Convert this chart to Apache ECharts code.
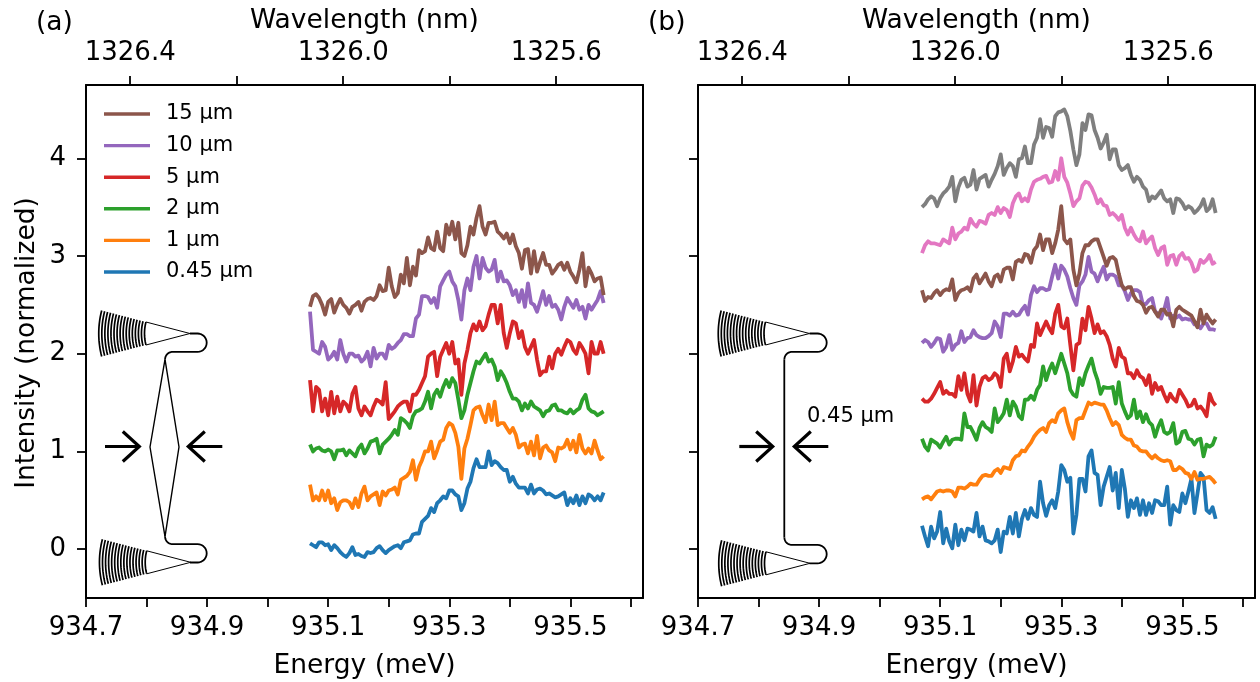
<!DOCTYPE html>
<html><head><meta charset="utf-8">
<style>html,body{margin:0;padding:0;background:#fff}#c{width:1260px;height:682px}</style>
<script src="https://cdn.jsdelivr.net/npm/echarts@6/dist/echarts.min.js"></script>
</head><body><div id="c"></div>
<script>
const energy=[935.07,935.075,935.08,935.085,935.09,935.095,935.1,935.105,935.11,935.115,
935.12,935.125,935.13,935.135,935.14,935.145,935.15,935.155,935.16,935.165,
935.17,935.175,935.18,935.185,935.19,935.195,935.2,935.205,935.21,935.215,
935.22,935.225,935.23,935.235,935.24,935.245,935.25,935.255,935.26,935.265,
935.27,935.275,935.28,935.285,935.29,935.295,935.3,935.305,935.31,935.315,
935.32,935.325,935.33,935.335,935.34,935.345,935.35,935.355,935.36,935.365,
935.37,935.375,935.38,935.385,935.39,935.395,935.4,935.405,935.41,935.415,
935.42,935.425,935.43,935.435,935.44,935.445,935.45,935.455,935.46,935.465,
935.47,935.475,935.48,935.485,935.49,935.495,935.5,935.505,935.51,935.515,
935.52,935.525,935.53,935.535,935.54,935.545,935.55,935.555];
const a045=[.06,.04,.02,.07,.07,.04,.05,-.01,.04,.01,
-.03,-.06,-.08,-.04,.02,-.06,-.05,-.07,-.08,-.03,
-.04,-.03,.01,.03,-.01,-.04,-.01,.01,.03,.04,
.01,.07,.08,.09,.15,.16,.16,.28,.31,.34,
.42,.38,.47,.50,.54,.52,.60,.60,.56,.54,
.40,.47,.62,.69,.83,.92,.84,.84,.84,1.0,
.86,.90,.88,.84,.81,.81,.69,.74,.67,.63,
.63,.63,.57,.66,.57,.61,.62,.60,.56,.57,
.55,.53,.54,.56,.58,.45,.52,.47,.55,.45,
.54,.47,.56,.54,.50,.54,.50,.58];
const a1=[.66,.50,.54,.50,.60,.50,.60,.47,.52,.40,
.48,.50,.50,.48,.42,.52,.43,.57,.64,.50,
.54,.56,.58,.45,.59,.55,.60,.61,.63,.56,
.71,.73,.75,.79,.91,.71,.84,.91,1.0,1.0,
1.10,.93,1.01,1.10,1.12,1.24,1.29,1.27,1.19,1.05,
.72,1.03,1.13,1.27,1.42,1.45,1.46,1.37,1.30,1.48,
1.32,1.51,1.27,1.29,1.29,1.24,1.19,1.24,1.17,1.04,
1.07,1.08,.98,1.10,.96,1.16,.93,1.04,1.06,1.01,
.99,.90,1.04,1.03,1.05,1.12,1.02,1.11,.99,1.17,
1.03,.98,1.03,.98,1.11,1.01,.92,.95];
const a2=[1.07,1.0,1.03,1.04,1.01,1.0,1.02,1.0,.92,1.01,
1.01,1.02,.96,1.01,.98,.95,1.03,1.07,.98,1.03,
1.10,1.11,1.13,.98,1.07,1.10,1.13,1.17,1.22,1.17,
1.34,1.32,1.29,1.24,1.36,1.41,1.42,1.44,1.51,1.61,
1.44,1.58,1.63,1.56,1.66,1.73,1.66,1.75,1.70,1.53,
1.34,1.42,1.58,1.70,1.82,1.92,1.90,1.95,2.0,1.92,
1.94,1.87,1.73,1.82,1.77,1.70,1.61,1.54,1.54,1.51,
1.42,1.49,1.44,1.51,1.46,1.44,1.42,1.36,1.41,1.42,
1.47,1.48,1.42,1.42,1.40,1.39,1.43,1.39,1.42,1.44,
1.53,1.58,1.44,1.41,1.40,1.37,1.39,1.41];
const a5=[1.73,1.41,1.66,1.63,1.41,1.54,1.37,1.61,1.39,1.56,
1.41,1.51,1.48,1.41,1.59,1.66,1.44,1.37,1.46,1.41,
1.37,1.46,1.53,1.51,1.48,1.71,1.33,1.37,1.41,1.46,
1.49,1.51,1.51,1.41,1.58,1.58,1.63,1.70,1.77,1.97,
2.0,2.02,1.77,1.97,2.04,2.11,2.0,2.12,1.90,1.94,
1.58,1.90,2.04,2.21,2.30,2.24,2.33,2.24,2.28,2.40,
2.50,2.50,2.31,2.50,2.21,2.06,2.21,2.33,2.31,2.16,
2.23,2.07,2.0,2.07,2.14,1.94,1.78,1.82,1.82,1.97,
1.85,2.0,2.05,1.99,2.07,2.14,2.12,2.04,2.0,2.11,
2.06,2.0,1.80,2.12,2.0,2.0,2.12,2.0];
const a10=[2.43,2.04,2.02,2.0,2.12,2.07,1.94,1.97,2.02,1.94,
2.14,2.0,1.92,2.0,2.0,1.97,1.98,1.92,1.95,2.02,
1.87,2.06,1.95,2.0,2.0,1.95,2.09,2.05,2.07,2.11,
2.14,2.20,2.20,2.18,2.18,2.36,2.40,2.59,2.59,2.58,
2.52,2.57,2.47,2.69,2.75,2.81,2.84,2.74,2.69,2.55,
2.35,2.65,2.77,2.65,2.89,3.0,2.77,2.98,2.88,2.84,
2.86,2.96,2.74,2.84,2.74,2.75,2.70,2.60,2.65,2.53,
2.65,2.48,2.72,2.52,2.50,2.43,2.53,2.64,2.50,2.59,
2.48,2.50,2.45,2.35,2.48,2.57,2.52,2.47,2.55,2.45,
2.48,2.36,2.50,2.45,2.50,2.55,2.64,2.52];
const a15=[2.48,2.59,2.61,2.57,2.50,2.40,2.53,2.56,2.42,2.50,
2.56,2.50,2.47,2.41,2.48,2.50,2.53,2.44,2.53,2.56,
2.57,2.55,2.59,2.70,2.64,2.65,2.88,2.69,2.58,2.62,
2.81,2.72,2.98,2.70,2.89,2.80,3.06,3.03,3.05,3.19,
3.08,3.06,3.25,3.08,3.05,3.32,3.22,3.35,3.17,3.34,
3.03,3.0,3.11,3.30,3.22,3.39,3.51,3.30,3.22,3.34,
3.34,3.35,3.25,3.22,3.18,3.23,3.13,3.22,3.10,3.03,
2.87,3.06,3.07,2.82,3.05,2.84,2.94,3.03,2.91,2.91,
2.82,2.86,2.91,2.93,2.86,2.93,2.84,2.79,2.73,2.86,
3.03,2.69,2.88,2.82,2.74,2.77,2.78,2.60];
const bBlue=[.24,.13,.03,.23,.11,.18,.38,.06,.21,.08,
.01,.25,.04,.20,.09,.21,.20,.18,.37,.13,
.23,.09,.08,.06,.09,.20,-.03,.18,.16,.33,
.16,.37,.13,.31,.40,.31,.42,.35,.33,.69,
.47,.34,.45,.50,.42,.59,.86,.81,.69,.73,
.16,.35,.72,.72,.59,.95,1.01,.78,.76,.45,
.64,.74,.84,.60,.78,.42,.81,.62,.33,.50,
.42,.52,.35,.50,.35,.47,.37,.50,.49,.45,
.45,.64,.25,.45,.40,.38,.57,.47,.59,.72,
.37,.57,.78,.74,.40,.37,.43,.31];
const bOrange=[.51,.53,.54,.51,.55,.59,.60,.59,.60,.60,
.59,.54,.63,.63,.62,.64,.67,.66,.66,.71,
.75,.76,.75,.75,.80,.82,.78,.84,.83,.82,
.91,.95,.96,1.01,1.0,1.05,1.09,1.15,1.19,1.22,
1.24,1.20,1.29,1.32,1.30,1.39,1.42,1.44,1.30,1.20,
1.13,1.32,1.34,1.34,1.42,1.50,1.48,1.50,1.49,1.48,
1.48,1.42,1.34,1.27,1.30,1.27,1.17,1.14,1.12,1.12,
1.06,1.05,1.01,1.0,1.0,.96,.93,.96,.93,.91,
.90,.91,.90,.81,.81,.84,.82,.78,.77,.72,
.79,.71,.72,.72,.73,.74,.71,.67];
const bGreen=[1.13,1.05,1.01,1.12,1.10,1.08,1.04,1.10,1.15,1.07,
1.12,1.13,1.13,1.12,1.39,1.25,1.25,1.19,1.12,1.24,
1.30,1.25,1.23,1.20,1.44,1.30,1.34,1.39,1.53,1.37,
1.51,1.46,1.36,1.33,1.53,1.53,1.57,1.53,1.63,1.68,
1.87,1.73,1.83,1.90,1.80,1.90,2.0,1.90,1.80,1.63,
1.58,1.56,1.75,1.68,1.80,1.88,1.95,1.82,1.73,1.59,
1.66,1.65,1.65,1.66,1.49,1.71,1.49,1.41,1.34,1.37,
1.53,1.34,1.41,1.30,1.38,1.30,1.27,1.15,1.25,1.32,
1.20,1.18,1.20,1.29,1.08,1.10,1.20,1.21,1.13,1.12,
1.07,1.12,1.13,.95,1.07,1.05,1.07,1.15];
const bRed=[1.54,1.51,1.51,1.54,1.59,1.65,1.71,1.59,1.62,1.59,
1.59,1.56,1.77,1.63,1.80,1.59,1.51,1.78,1.47,1.66,
1.75,1.77,1.73,1.75,1.80,1.77,1.66,1.95,2.0,1.82,
1.92,2.07,1.97,1.99,1.95,1.92,2.09,2.07,2.31,2.19,
2.26,2.33,2.26,2.21,2.41,2.50,2.28,2.26,2.36,2.09,
1.83,2.09,2.11,2.36,2.24,2.48,2.36,2.21,2.30,2.21,
2.23,2.18,2.09,1.95,1.87,2.06,1.97,1.95,1.80,1.80,
1.75,1.83,1.77,1.75,1.68,1.78,1.59,1.70,1.63,1.66,
1.58,1.51,1.59,1.54,1.51,1.63,1.58,1.53,1.46,1.47,
1.53,1.44,1.46,1.42,1.36,1.59,1.51,1.47];
const bPurple=[2.11,2.14,2.12,2.07,2.11,2.16,2.15,2.02,2.07,2.19,
2.04,2.09,2.11,2.23,2.12,2.16,2.17,2.24,2.19,2.17,
2.16,2.16,2.18,2.21,2.33,2.28,2.17,2.41,2.41,2.39,
2.43,2.39,2.40,2.45,2.49,2.40,2.60,2.69,2.63,2.67,
2.67,2.65,2.66,2.79,2.91,2.77,2.90,2.86,2.79,2.67,
2.57,2.50,2.70,2.74,2.81,2.99,2.84,2.82,2.74,2.82,
2.89,2.76,2.81,2.81,2.79,2.70,2.70,2.64,2.55,2.62,
2.65,2.65,2.63,2.50,2.51,2.55,2.57,2.43,2.41,2.36,
2.45,2.57,2.36,2.39,2.37,2.39,2.35,2.36,2.35,2.35,
2.30,2.30,2.26,2.31,2.31,2.25,2.25,2.24];
const bBrown=[2.65,2.54,2.58,2.57,2.62,2.65,2.60,2.64,2.66,2.65,
2.76,2.55,2.62,2.65,2.66,2.68,2.64,2.77,2.81,2.72,
2.77,2.82,2.74,2.69,2.79,2.81,2.74,2.86,2.88,2.88,
2.76,2.94,2.96,2.94,3.02,3.01,2.93,3.06,3.10,3.22,
3.06,3.17,3.17,3.03,3.13,3.27,3.51,3.17,3.13,3.17,
2.86,2.70,2.82,3.03,3.11,3.11,3.15,3.17,3.17,3.08,
2.99,2.90,2.98,2.99,2.96,2.82,2.70,2.66,2.68,2.68,
2.59,2.54,2.53,2.50,2.42,2.47,2.48,2.43,2.38,2.45,
2.45,2.40,2.41,2.28,2.45,2.48,2.45,2.43,2.41,2.39,
2.33,2.27,2.45,2.31,2.40,2.35,2.31,2.35];
const bPink=[3.03,3.11,3.15,3.13,3.13,3.12,3.11,3.17,3.15,3.13,
3.29,3.17,3.23,3.25,3.29,3.27,3.38,3.33,3.30,3.36,
3.35,3.33,3.42,3.44,3.42,3.50,3.44,3.49,3.47,3.40,
3.54,3.61,3.64,3.56,3.59,3.56,3.68,3.76,3.78,3.79,
3.81,3.82,3.75,3.76,3.87,3.78,4.0,3.81,3.75,3.64,
3.51,3.56,3.59,3.72,3.76,3.75,3.70,3.63,3.54,3.58,
3.52,3.51,3.42,3.44,3.41,3.37,3.42,3.29,3.22,3.29,
3.22,3.17,3.15,3.25,3.13,3.17,3.20,3.08,3.01,3.08,
3.10,2.91,3.0,3.01,2.91,3.0,3.03,2.97,2.98,2.93,
2.84,2.86,2.96,2.93,2.96,3.01,2.92,2.94];
const bGray=[3.50,3.53,3.58,3.61,3.59,3.51,3.59,3.64,3.67,3.71,
3.81,3.56,3.70,3.78,3.80,3.71,3.73,3.88,3.68,3.79,
3.81,3.83,3.71,3.78,3.84,3.92,4.04,3.83,3.90,3.95,
3.92,3.81,3.99,4.0,4.12,3.95,3.95,4.14,4.21,4.40,
4.21,4.32,4.31,4.22,4.43,4.47,4.48,4.50,4.43,4.28,
4.09,3.93,4.04,4.36,4.29,4.45,4.44,4.29,4.21,4.10,
4.16,4.24,3.99,4.09,4.09,3.93,3.88,3.90,3.93,3.83,
3.76,3.81,3.78,3.71,3.68,3.56,3.61,3.59,3.63,3.67,
3.59,3.56,3.58,3.44,3.59,3.58,3.54,3.48,3.51,3.49,
3.44,3.47,3.51,3.58,3.46,3.49,3.58,3.44];
const energyTicks=[934.7,934.8,934.9,935,935.1,935.2,935.3,935.4,935.5,935.6];
const energyLabels=[934.7,934.9,935.1,935.3,935.5];
const wavelengthTicks=[1326.4,1326.2,1326.0,1325.8,1325.6];
const wavelengthLabels=[1326.4,1326.0,1325.6];
const intensityTicks=[0,1,2,3,4];
const legendNames=['15 µm','10 µm','5 µm','2 µm','1 µm','0.45 µm'];
const colors={blue:'#1f77b4',orange:'#ff7f0e',green:'#2ca02c',red:'#d62728',purple:'#9467bd',brown:'#8c564b',pink:'#e377c2',gray:'#7f7f7f'};

const FF='"DejaVu Sans"';
const TICK=26, TITLE=26.5;
const line={show:true,onZero:false,lineStyle:{color:'#000',width:2}};
const tk=v=>({show:true,length:9,lineStyle:{color:'#000',width:1.8},customValues:v});
function xBottom(gi){return{type:'value',gridIndex:gi,position:'bottom',min:934.7,max:935.62,
 name:'Energy (meV)',nameLocation:'middle',nameGap:55,nameTextStyle:{fontFamily:FF,fontSize:TITLE,color:'#000'},
 axisLine:line,splitLine:{show:false},axisTick:tk(energyTicks),
 axisLabel:{show:true,fontFamily:FF,fontSize:TICK,color:'#000',margin:17,customValues:energyLabels,formatter:v=>v.toFixed(1)}};}
function xTop(gi){return{type:'value',gridIndex:gi,position:'top',inverse:true,min:1325.437,max:1326.483,
 name:'Wavelength (nm)',nameLocation:'middle',nameGap:50,nameTextStyle:{fontFamily:FF,fontSize:TITLE,color:'#000'},
 axisLine:line,splitLine:{show:false},axisTick:tk(wavelengthTicks),
 axisLabel:{show:true,fontFamily:FF,fontSize:TICK,color:'#000',margin:18.5,customValues:wavelengthLabels,formatter:v=>v.toFixed(1)}};}
function yAxis(gi,labeled){return{type:'value',gridIndex:gi,position:'left',min:-0.5,max:4.75,
 name:labeled?'Intensity (normalized)':'',nameLocation:'middle',nameGap:45,nameTextStyle:{fontFamily:FF,fontSize:TITLE,color:'#000',padding:[0,3,0,0]},
 axisLine:line,splitLine:{show:false},axisTick:tk(intensityTicks),
 axisLabel:{show:labeled,fontFamily:FF,fontSize:TICK,color:'#000',margin:20,padding:[6,0,0,0],customValues:intensityTicks,formatter:v=>String(v)}};}
function yRight(gi){return{type:'value',gridIndex:gi,position:'right',min:-0.5,max:4.75,axisLine:line,splitLine:{show:false},axisTick:{show:false},axisLabel:{show:false}};}
function trace(name,vals,color,gi){return{type:'line',name,xAxisIndex:gi*2,yAxisIndex:gi*2,data:vals.map((v,i)=>[energy[i],v]),
 showSymbol:false,symbol:'none',smooth:false,animation:false,silent:true,lineStyle:{color,width:3.8,join:'round'},itemStyle:{color},clip:false};}

const series=[
 trace('0.45 µm',a045,colors.blue,0),trace('1 µm',a1,colors.orange,0),trace('2 µm',a2,colors.green,0),
 trace('5 µm',a5,colors.red,0),trace('10 µm',a10,colors.purple,0),trace('15 µm',a15,colors.brown,0),
 trace('b1',bBlue,colors.blue,1),trace('b2',bOrange,colors.orange,1),trace('b3',bGreen,colors.green,1),
 trace('b4',bRed,colors.red,1),trace('b5',bPurple,colors.purple,1),trace('b6',bBrown,colors.brown,1),
 trace('b7',bPink,colors.pink,1),trace('b8',bGray,colors.gray,1)];

// device schematic (decoration only)
const g=[];
const pl=(pts,w,join)=>g.push({type:'polyline',silent:true,shape:{points:pts},style:{stroke:'#000',fill:null,lineWidth:w,lineJoin:join||'round'},z:5});
const arcPts=(cx,cy,r,a0,a1)=>{const o=[];for(let k=0;k<=14;k++){const a=a0+(a1-a0)*k/14;o.push([cx+r*Math.cos(a),cy+r*Math.sin(a)]);}return o;};
function grating(cx,cy){for(let r=45.5;r<=91.5;r+=3.05){pl(arcPts(cx,cy,r,Math.PI-0.255,Math.PI+0.255),1.7);}
 pl([[cx-44,cy-11.5],[cx,cy],[cx-44,cy+11.5]],1);}
function guide(tipX,topY,botY,cx,wL,wR,midY,ext){
 const R=ext-9.2;
 const up=[[tipX,topY],[R,topY],...arcPts(R,topY+9.2,9.2,-Math.PI/2,Math.PI/2).slice(1),
   [cx+7.5,topY+18.4],...arcPts(cx+7.5,topY+25.8,7.4,-Math.PI/2,-Math.PI).slice(1)];
 const dn=[...arcPts(cx+7.5,botY-25.8,7.4,Math.PI,Math.PI/2),[R,botY-18.4],
   ...arcPts(R,botY-9.2,9.2,-Math.PI/2,Math.PI/2).slice(1),[tipX,botY]];
 pl(up,1.8);pl(dn,1.8);
 if(wL===null){pl([[cx,topY+25.8],[cx,botY-25.8]],1.8);}
 else{pl([[cx,topY+25.8],[wL,midY],[cx,botY-25.8]],1.4);pl([[cx,topY+25.8],[wR,midY],[cx,botY-25.8]],1.4);}
}
function arrow(x0,x1,y){const d=Math.sign(x0-x1)*16.5;pl([[x0,y],[x1-Math.sign(x1-x0)*2,y]],3.2);pl([[x1+d,y-15],[x1,y],[x1+d,y+15]],3.2,'miter');}
grating(190,333.5);grating(190.7,562.3);
guide(190,333.5,562.5,165,150,179,447,206.7);
arrow(105,139.3,446.5);arrow(222.3,188.3,446.5);
grating(809.5,333.5);grating(810,563.3);
guide(809.5,333.5,563.3,784.3,null,null,0,826.7);
arrow(739.3,772.7,446.5);arrow(828.3,794.3,446.5);
const txt=(s,x,y,size)=>g.push({type:'text',silent:true,x,y,style:{text:s,fontFamily:FF,fontSize:size,fill:'#000',textAlign:'left',textVerticalAlign:'middle'},z:6});
txt('0.45 µm',807,417,21);
txt('(a)',36,23,26.5);txt('(b)',648,23,26.5);

const chart=echarts.init(document.getElementById('c'),null,{renderer:'canvas'});
chart.setOption({animation:false,backgroundColor:'#fff',
 grid:[{left:86,right:617,top:85,bottom:84,show:false,outerBoundsMode:'none'},{left:698,right:5,top:85,bottom:84,show:false,outerBoundsMode:'none'}],
 xAxis:[xBottom(0),xTop(0),xBottom(1),xTop(1)],
 yAxis:[yAxis(0,true),yRight(0),yAxis(1,false),yRight(1)],
 legend:{show:true,orient:'vertical',left:104,top:103.5,icon:'rect',itemWidth:46,itemHeight:3.4,itemGap:10.6,data:legendNames,
  textStyle:{fontFamily:FF,fontSize:21,color:'#000',lineHeight:20,padding:[1,0,0,11]},selectedMode:false,padding:0},
 series,graphic:{elements:g}});
</script></body></html>
